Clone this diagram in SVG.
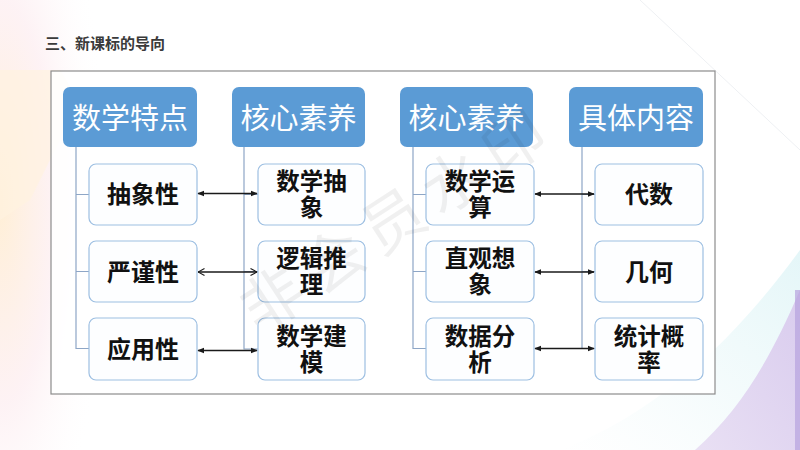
<svg xmlns="http://www.w3.org/2000/svg" width="800" height="450" viewBox="0 0 800 450" lang="zh-CN">
<defs>
  <radialGradient id="peach" cx="0" cy="0.45" r="0.9">
    <stop offset="0" stop-color="#FFEFD6" stop-opacity="1"/>
    <stop offset="0.5" stop-color="#FDEFF2" stop-opacity="0.8"/>
    <stop offset="1" stop-color="#FFFFFF" stop-opacity="0"/>
  </radialGradient>
  <linearGradient id="lav" x1="0" y1="1" x2="1" y2="0">
    <stop offset="0" stop-color="#E9E0F4"/>
    <stop offset="1" stop-color="#D9CCEE"/>
  </linearGradient>
  <linearGradient id="cyan" x1="0" y1="1" x2="1" y2="0">
    <stop offset="0" stop-color="#EEF9FA" stop-opacity="0"/>
    <stop offset="1" stop-color="#E4F6F8" stop-opacity="1"/>
  </linearGradient>
  <marker id="ah" viewBox="0 0 8 8" refX="7" refY="4" markerWidth="7" markerHeight="7" markerUnits="userSpaceOnUse" orient="auto-start-reverse">
    <path d="M0,0.8 L8,4 L0,7.2 Z" fill="#1a1a1a"/>
  </marker>
  <marker id="ao" viewBox="0 0 8 8" refX="7.5" refY="4" markerWidth="8" markerHeight="8" markerUnits="userSpaceOnUse" orient="auto-start-reverse">
    <path d="M1,0.5 L7.5,4 L1,7.5" fill="none" stroke="#1a1a1a" stroke-width="1.1"/>
  </marker>
  <style>
    .hdr rect { fill: #5B9BD5; }
    .hdr text { fill: #FFFFFF; font-family: "Noto Sans CJK SC", "Noto Sans", sans-serif; font-size: 29px; text-anchor: middle; }
    .box rect { fill: #FDFEFF; stroke: #9DBFE2; stroke-width: 1.2; }
    .box text { fill: #111111; font-family: "Noto Sans CJK SC", "Noto Sans", sans-serif; font-size: 24px; font-weight: bold; text-anchor: middle; }
    .box text.two { font-family: "Liberation Sans", "Noto Sans CJK SC", sans-serif; font-size: 23.5px; }
    .tree { fill: none; stroke: #8EA6C6; stroke-width: 1.2; }
    .arr { stroke: #1a1a1a; stroke-width: 1.3; fill: none; }
  </style>
</defs>

<!-- background -->
<rect x="0" y="0" width="800" height="450" fill="#FFFFFF"/>
<rect x="0" y="0" width="120" height="450" fill="url(#peach)"/>
<path d="M0,70 L60,70 L72,90 L60,140 L30,200 L0,220 Z" fill="#FFF2DF" opacity="0.7"/>
<path d="M800,250 L800,450 L560,450 C640,420 720,360 800,250 Z" fill="url(#cyan)"/>
<path d="M800,290 L800,450 L695,450 C740,410 770,360 800,290 Z" fill="url(#lav)"/>
<rect x="795" y="290" width="5" height="160" fill="#B7A2DE" opacity="0.7"/>
<path d="M640,0 L800,150" stroke="#EEF0F3" stroke-width="1" fill="none"/>

<!-- title -->
<text x="45" y="49" font-family="Noto Sans CJK SC, Noto Sans, sans-serif" font-size="15" font-weight="bold" fill="#3a3a3a">三、新课标的导向</text>

<!-- frame -->
<rect x="51" y="71" width="664" height="323" fill="#FFFFFF" fill-opacity="0.85" stroke="#8C8C8C" stroke-width="1.2"/>

<!-- connectors -->
<g id="connectors">
  <path class="tree" d="M76,147 V348.5 H89 M76,194.5 H89 M76,271.5 H89"/>
  <path class="tree" d="M244,147 V349 H258 M244,194.5 H258 M244,271.5 H258"/>
  <path class="tree" d="M413,147 V348.5 H426 M413,194.5 H426 M413,271.5 H426"/>
  <path class="tree" d="M582,147 V348.5 H595 M582,194.5 H595 M582,271.5 H595"/>
  <line class="arr" x1="198" y1="193.5" x2="257" y2="193.5" marker-start="url(#ah)" marker-end="url(#ah)"/>
  <line class="arr" x1="198" y1="272" x2="257" y2="272" marker-start="url(#ao)" marker-end="url(#ao)"/>
  <line class="arr" x1="198" y1="350.5" x2="257" y2="350.5" marker-start="url(#ah)" marker-end="url(#ah)"/>
  <line class="arr" x1="535" y1="194" x2="594" y2="194" marker-start="url(#ah)" marker-end="url(#ah)"/>
  <line class="arr" x1="535" y1="272" x2="594" y2="272" marker-start="url(#ah)" marker-end="url(#ah)"/>
  <line class="arr" x1="535" y1="348.5" x2="594" y2="348.5" marker-start="url(#ah)" marker-end="url(#ah)"/>
</g>

<!-- headers -->
<g id="h1" class="hdr"><rect x="63" y="87" width="134" height="60" rx="7"/><text x="130" y="129">数学特点</text></g>
<g id="h2" class="hdr"><rect x="232" y="87" width="133" height="60" rx="7"/><text x="298.5" y="129">核心素养</text></g>
<g id="h3" class="hdr"><rect x="400" y="87" width="133" height="60" rx="7"/><text x="466.5" y="129">核心素养</text></g>
<g id="h4" class="hdr"><rect x="569" y="87" width="134" height="60" rx="7"/><text x="636" y="129">具体内容</text></g>

<!-- column 1 -->
<g id="c1r1" class="box"><rect x="89" y="164" width="108" height="61" rx="7"/><text x="143" y="203">抽象性</text></g>
<g id="c1r2" class="box"><rect x="89" y="241" width="108" height="61" rx="7"/><text x="143" y="280.5">严谨性</text></g>
<g id="c1r3" class="box"><rect x="89" y="318" width="108" height="62" rx="7"/><text x="143" y="358">应用性</text></g>

<!-- column 2 -->
<g id="c2r1" class="box"><rect x="258" y="164" width="107" height="61" rx="7"/><text class="two" x="311.5" y="189.5">数学抽<tspan x="311.5" dy="26.5">象</tspan></text></g>
<g id="c2r2" class="box"><rect x="258" y="241" width="107" height="61" rx="7"/><text class="two" x="311.5" y="266.5">逻辑推<tspan x="311.5" dy="26.5">理</tspan></text></g>
<g id="c2r3" class="box"><rect x="258" y="318" width="107" height="62" rx="7"/><text class="two" x="311.5" y="344.5">数学建<tspan x="311.5" dy="26.5">模</tspan></text></g>

<!-- column 3 -->
<g id="c3r1" class="box"><rect x="426" y="164" width="108" height="61" rx="7"/><text class="two" x="480" y="189.5">数学运<tspan x="480" dy="26.5">算</tspan></text></g>
<g id="c3r2" class="box"><rect x="426" y="241" width="108" height="61" rx="7"/><text class="two" x="480" y="266.5">直观想<tspan x="480" dy="26.5">象</tspan></text></g>
<g id="c3r3" class="box"><rect x="426" y="318" width="108" height="62" rx="7"/><text class="two" x="480" y="344.5">数据分<tspan x="480" dy="26.5">析</tspan></text></g>

<!-- column 4 -->
<g id="c4r1" class="box"><rect x="595" y="164" width="108" height="61" rx="7"/><text x="649" y="203">代数</text></g>
<g id="c4r2" class="box"><rect x="595" y="241" width="108" height="61" rx="7"/><text x="649" y="280.5">几何</text></g>
<g id="c4r3" class="box"><rect x="595" y="318" width="108" height="62" rx="7"/><text class="two" x="649" y="344.5">统计概<tspan x="649" dy="26.5">率</tspan></text></g>

<!-- watermark -->
<text x="400" y="240" transform="rotate(-33 400 222)" font-family="Noto Sans CJK SC, Noto Sans, sans-serif" font-size="62" fill="#000000" fill-opacity="0.06" text-anchor="middle" letter-spacing="10">非会员水印</text>
</svg>
